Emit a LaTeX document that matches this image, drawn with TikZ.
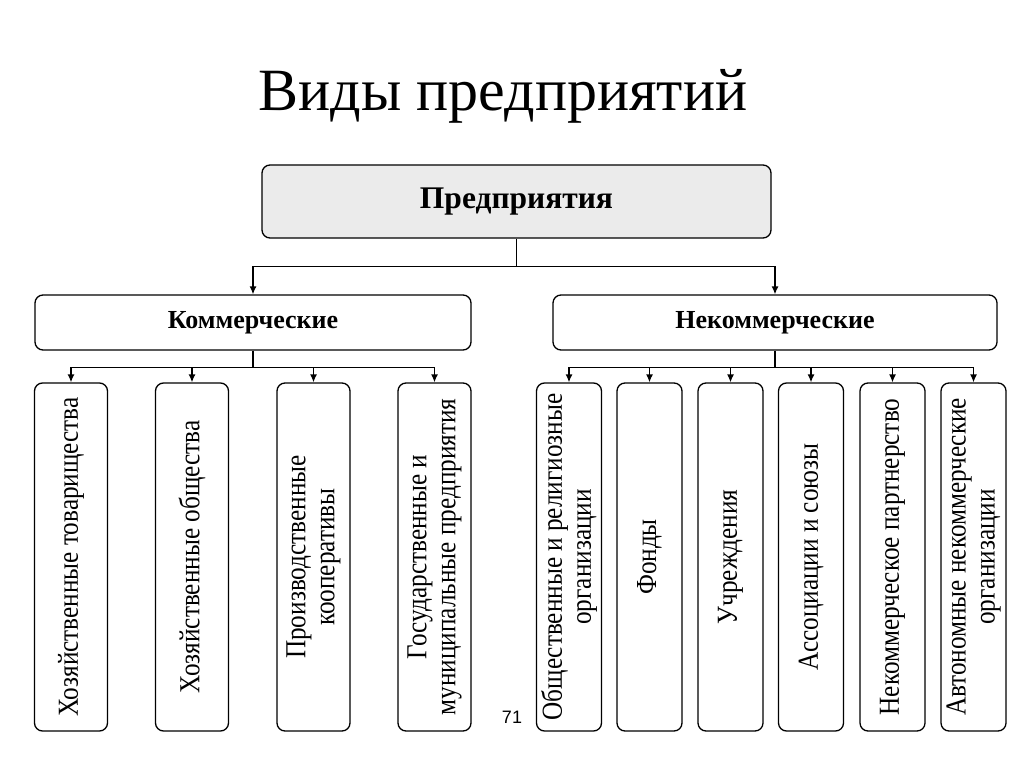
\documentclass[tikz,border=0pt]{standalone}
\usepackage{fontspec}
\setmainfont{Liberation Serif}
\newfontfamily\leaffont[FakeStretch=0.87]{Liberation Serif}
\newfontfamily\pagefont{Liberation Sans}
\usetikzlibrary{arrows.meta}

\begin{document}
\begin{tikzpicture}[
            x=1pt, y=-1pt,
            >={Latex[length=8pt,width=7pt]}, line width=1.3pt,
            box/.style={draw, rounded corners=8pt, inner sep=0pt},
            leaf/.style={box, rotate=90, minimum height=#1, minimum width=348pt,
                         align=center, font=\leaffont\fontsize{29}{29}\selectfont},
    ]
    \useasboundingbox (0, 0) rectangle (1024, 767);

    \node[font=\fontsize{60}{64}\selectfont] (title) at (503, 96) {Виды предприятий};

    \node[box, fill=black!8, minimum width=509pt, minimum height=73pt,
          font=\bfseries\fontsize{31.5}{35}\selectfont] (firms) at (516.5, 201.5) {Предприятия};

    \node[box, minimum width=436pt, minimum height=55pt,
          font=\bfseries\fontsize{26}{30}\selectfont] (comm) at (253, 322.5) {Коммерческие};
    \node[box, minimum width=444pt, minimum height=55pt,
          font=\bfseries\fontsize{26}{30}\selectfont] (ncomm) at (775, 322.5) {Некоммерческие};

    % commercial
    \node[leaf=73pt] (c1) at (71, 557) {Хозяйственные товарищества};
    \node[leaf=73pt] (c2) at (192, 557) {Хозяйственные общества};
    \node[leaf=73pt] (c3) at (313.5, 557) {Производственные\\кооперативы};
    \node[leaf=73pt] (c4) at (434.5, 557) {Государственные и\\муниципальные предприятия};

    % non-commercial
    \node[leaf=65pt] (n1) at (569, 557) {Общественные и религиозные\\организации};
    \node[leaf=65pt] (n2) at (649.5, 557) {Фонды};
    \node[leaf=65pt] (n3) at (730.5, 557) {Учреждения};
    \node[leaf=65pt] (n4) at (811, 557) {Ассоциации и союзы};
    \node[leaf=65pt] (n5) at (892.5, 557) {Некоммерческое партнерство};
    \node[leaf=65pt] (n6) at (973.5, 557) {Автономные некоммерческие\\организации};

    \draw (firms.south) -- ++(0, 28) coordinate (fork);
    \draw[->] (fork) -| (comm.north);
    \draw[->] (fork) -| (ncomm.north);

    \draw (comm.south) -- ++(0, 17) coordinate (cfork);
    \foreach \n in {c1, c2, c3, c4}
        \draw[->] (cfork) -| (\n.east);

    \draw (ncomm.south) -- ++(0, 17) coordinate (nfork);
    \foreach \n in {n1, n2, n3, n4, n5, n6}
        \draw[->] (nfork) -| (\n.east);

    \node[font=\pagefont\fontsize{18}{20}\selectfont] (page) at (512, 717) {71};
\end{tikzpicture}
\end{document}
